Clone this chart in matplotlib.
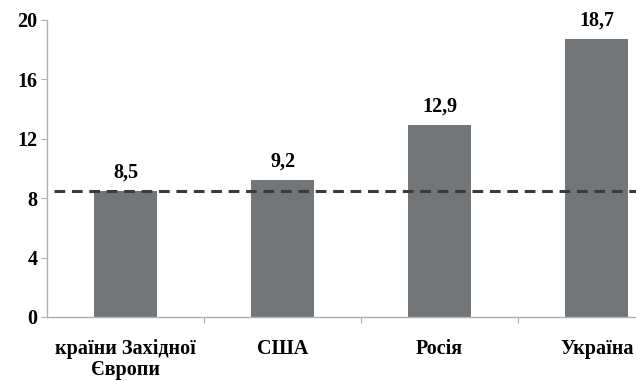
import matplotlib.pyplot as plt

regions = ['країни Західної\nЄвропи', 'США', 'Росія', 'Україна']
values = [8.5, 9.2, 12.9, 18.7]
value_labels = ['8,5', '9,2', '12,9', '18,7']
baseline = 8.5
y_ticks = [0, 4, 8, 12, 16, 20]

plt.rcParams['font.family'] = ['Liberation Serif', 'DejaVu Serif']
plt.rcParams['font.weight'] = 'bold'

fig = plt.figure(figsize=(6.36, 3.81), dpi=100)
ax = fig.add_axes([0.074, 0.168, 0.926, 0.78])

x = range(len(regions))
ax.bar(x, values, width=0.4, color='#737679', zorder=2)

for i, v in enumerate(values):
    ax.annotate(value_labels[i], (i, v), xytext=(0, 6), textcoords='offset points',
                ha='center', va='bottom', fontsize=14.5, fontweight='bold')

ax.axhline(baseline, xmin=0.012, color='#3a3a3a', lw=2.2, ls=(0, (3.5, 2.2)), zorder=3)

ax.set_ylim(0, 20)
ax.set_yticks(y_ticks)
ax.set_yticklabels([str(t) for t in y_ticks], fontsize=14.5, fontweight='bold')
ax.set_xlim(-0.5, 3.25)

# category labels sit between the boundary ticks
ax.set_xticks([0.5, 1.5, 2.5])
ax.set_xticklabels([])
ax.set_xticks(list(x), minor=True)
ax.set_xticklabels(regions, minor=True, fontsize=14.5, fontweight='bold', linespacing=1.05)
ax.tick_params(axis='x', which='minor', length=0, pad=16)
ax.tick_params(axis='x', which='major', length=4, color='#b0b0b0', direction='out')
ax.tick_params(axis='y', length=4, color='#b0b0b0', pad=3)

for s in ['top', 'right']:
    ax.spines[s].set_visible(False)
for s in ['left', 'bottom']:
    ax.spines[s].set_color('#b0b0b0')
    ax.spines[s].set_linewidth(1)

fig.savefig('out.png', dpi=100)
